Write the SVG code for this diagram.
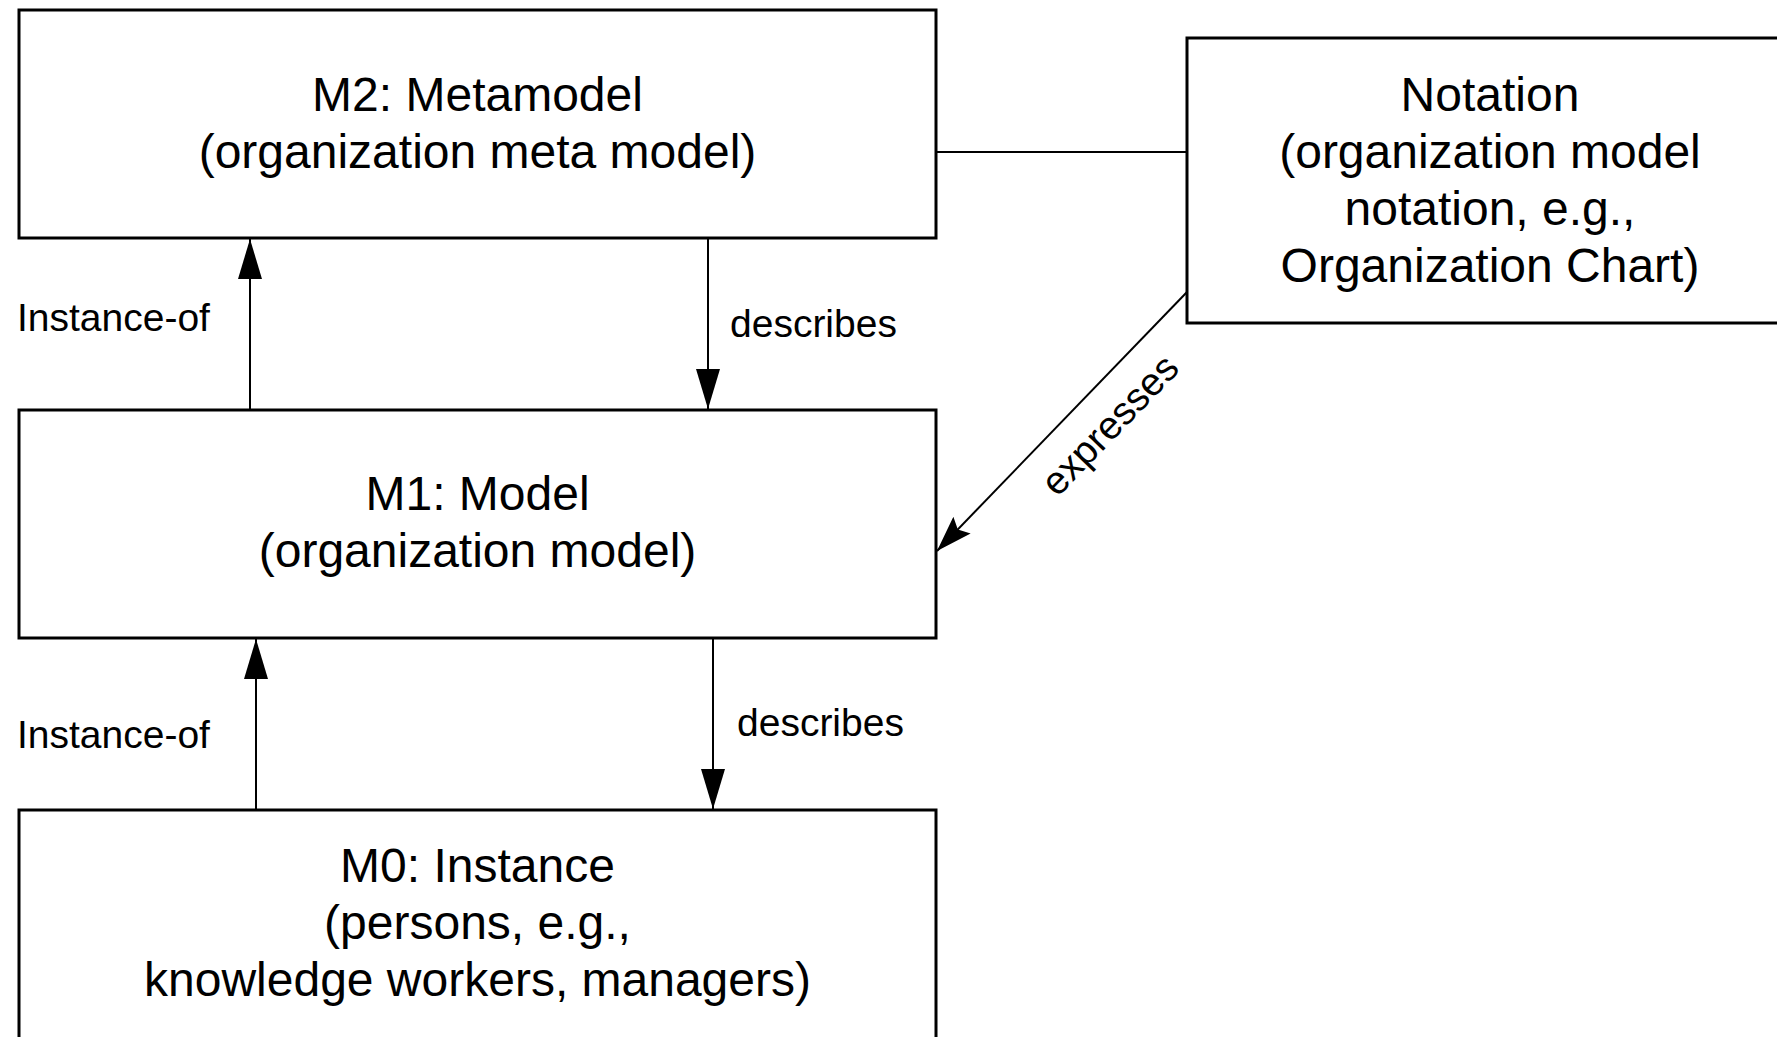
<svg xmlns="http://www.w3.org/2000/svg" width="1777" height="1037" viewBox="0 0 1777 1037">
<style>
.box{fill:#fff;stroke:#000;stroke-width:3}
.t{font-family:"Liberation Sans",Arial,sans-serif;font-size:48px;fill:#000;text-anchor:middle}
.l{font-family:"Liberation Sans",Arial,sans-serif;font-size:39px;fill:#000}
.c{stroke:#000;stroke-width:2;fill:none}
</style>
<defs>
<marker id="arr" viewBox="0 0 40 24" refX="40" refY="12" markerWidth="40" markerHeight="24" markerUnits="userSpaceOnUse" orient="auto">
<path d="M0,0 L40,12 L0,24 Z" fill="#000"/>
</marker>
<marker id="arr2" viewBox="0 0 36 24" refX="36" refY="12" markerWidth="36" markerHeight="24" markerUnits="userSpaceOnUse" orient="auto">
<path d="M0,0 L36,12 L0,24 L6,12 Z" fill="#000"/>
</marker>
</defs>
<rect width="1777" height="1037" fill="#fff"/>
<g id="connectors">
<line class="c" x1="936" y1="152" x2="1187" y2="152"/>
<line class="c" x1="250" y1="410" x2="250" y2="239" marker-end="url(#arr)"/>
<line class="c" x1="708" y1="238" x2="708" y2="409" marker-end="url(#arr)"/>
<line class="c" x1="256" y1="810" x2="256" y2="639" marker-end="url(#arr)"/>
<line class="c" x1="713" y1="638" x2="713" y2="809" marker-end="url(#arr)"/>
<line class="c" x1="1187" y1="292" x2="937" y2="551" marker-end="url(#arr2)"/>
<text class="l" x="17" y="331">Instance-of</text>
<text class="l" x="730" y="337">describes</text>
<text class="l" x="17" y="748">Instance-of</text>
<text class="l" x="737" y="736">describes</text>
<text class="l" text-anchor="middle" transform="translate(1112,427) rotate(-46)" y="10">expresses</text>
</g>
<g id="m2">
<rect class="box" x="19" y="10" width="917" height="228"/>
<text class="t" x="477.5" y="111">M2: Metamodel</text>
<text class="t" x="477.5" y="168">(organization meta model)</text>
</g>
<g id="notation">
<rect class="box" x="1187" y="38" width="610" height="285"/>
<text class="t" x="1490" y="111">Notation</text>
<text class="t" x="1490" y="168">(organization model</text>
<text class="t" x="1490" y="225">notation, e.g.,</text>
<text class="t" x="1490" y="282">Organization Chart)</text>
</g>
<g id="m1">
<rect class="box" x="19" y="410" width="917" height="228"/>
<text class="t" x="477.5" y="510">M1: Model</text>
<text class="t" x="477.5" y="567">(organization model)</text>
</g>
<g id="m0">
<rect class="box" x="19" y="810" width="917" height="240"/>
<text class="t" x="477.5" y="882">M0: Instance</text>
<text class="t" x="477.5" y="939">(persons, e.g.,</text>
<text class="t" x="477.5" y="996">knowledge workers, managers)</text>
</g>
</svg>
